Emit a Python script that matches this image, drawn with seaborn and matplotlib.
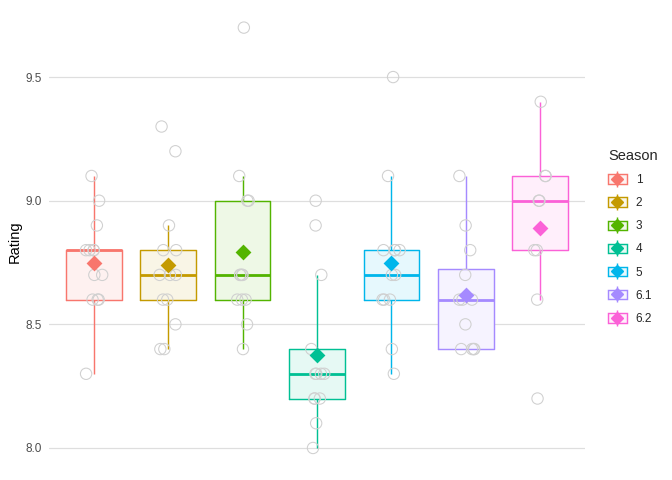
import numpy as np
import pandas as pd
import matplotlib.pyplot as plt
import seaborn as sns
from matplotlib.patches import Patch
from matplotlib.lines import Line2D
from matplotlib.legend_handler import HandlerTuple

# episode ratings per season
seasons = ['1', '2', '3', '4', '5', '6.1', '6.2']
s1 = [8.3, 8.6, 8.6, 8.6, 8.7, 8.7, 8.8, 8.8, 8.8, 8.8, 8.9, 9.0, 9.1]
s2 = [8.4, 8.4, 8.5, 8.6, 8.6, 8.7, 8.7, 8.7, 8.8, 8.8, 8.9, 9.2, 9.3]
s3 = [8.4, 8.5, 8.6, 8.6, 8.6, 8.7, 8.7, 8.7, 8.7, 9.0, 9.0, 9.1, 9.7]
s4 = [8.0, 8.1, 8.2, 8.2, 8.2, 8.3, 8.3, 8.3, 8.3, 8.4, 8.7, 8.9, 9.0]
s5 = [8.3, 8.4, 8.6, 8.6, 8.6, 8.7, 8.7, 8.8, 8.8, 8.8, 8.8, 9.1, 9.5]
s61 = [8.4, 8.4, 8.4, 8.4, 8.5, 8.6, 8.6, 8.6, 8.7, 8.8, 8.9, 9.1]
s62 = [8.2, 8.6, 8.8, 8.8, 9.0, 9.0, 9.1, 9.1, 9.4]

ratings = [s1, s2, s3, s4, s5, s61, s62]
df = pd.DataFrame({
    'Season': [s for s, r in zip(seasons, ratings) for _ in r],
    'Rating': [v for r in ratings for v in r],
})
df['Season'] = pd.Categorical(df['Season'], categories=seasons, ordered=True)

palette = ['#F8766D', '#C49A00', '#53B400', '#00C094', '#00B6EB', '#A58AFF', '#FB61D7']
# alpha 0.1 fill on white
light = [tuple(0.1 * np.array(plt.matplotlib.colors.to_rgb(c)) + 0.9) for c in palette]

sns.set_style('white')
plt.rcParams['font.family'] = ['Liberation Sans', 'DejaVu Sans']

fig = plt.figure(figsize=(7, 5), dpi=96)
ax = fig.add_axes([49 / 672, 1 - 469 / 480, 536 / 672, 454 / 480])

# box fills
sns.boxplot(data=df, x='Season', y='Rating', hue='Season', palette=light,
            saturation=1, width=0.75, showfliers=False, showcaps=False,
            linewidth=0, legend=False, ax=ax)
# box outlines, whiskers, medians
sns.boxplot(data=df, x='Season', y='Rating', hue='Season', palette=palette,
            saturation=1, width=0.75, showfliers=False, showcaps=False,
            fill=False, linewidth=1.07, medianprops={'linewidth': 2.1},
            legend=False, ax=ax)

# jittered episode points
np.random.seed(7)
n0 = len(ax.collections)
sns.stripplot(data=df, x='Season', y='Rating', color='#cccccc', jitter=0.12,
              size=8.5, ax=ax, zorder=4)
for coll in ax.collections[n0:]:
    coll.set_facecolor('none')
    coll.set_edgecolor('#d0d0d0')
    coll.set_linewidth(0.8)

# season means
sns.pointplot(data=df, x='Season', y='Rating', hue='Season', palette=palette,
              estimator='mean', errorbar=None, markers='D', linestyles='none',
              markersize=6, legend=False, ax=ax, zorder=6)

ax.set_xlim(-0.6, 6.6)
ax.set_ylim(7.915, 9.751)
ax.set_yticks([8.0, 8.5, 9.0, 9.5])
ax.set_yticklabels(['8.0', '8.5', '9.0', '9.5'], color='#4D4D4D', fontsize=8.8)
ax.set_xticks([])
ax.set_xlabel('')
ax.set_ylabel('Rating', fontsize=11, color='black', labelpad=3)
ax.tick_params(axis='y', length=0, pad=5)
ax.grid(axis='y', color='#DEDEDE', linewidth=0.9)
ax.set_axisbelow(True)
sns.despine(ax=ax, left=True, bottom=True)

handles = []
for c, lc in zip(palette, light):
    handles.append((
        Patch(facecolor=lc, edgecolor=c, linewidth=1.07),
        Line2D([], [], color=c, marker='|', markersize=12.5, markeredgewidth=1.07,
               linestyle='None'),
        Line2D([], [], color=c, marker='D', markersize=6.5, linestyle='None'),
    ))
leg = fig.legend(handles, seasons, title='Season', loc='upper left',
                 bbox_to_anchor=(602 / 672, 1 - 143 / 480), frameon=False,
                 fontsize=8.8, title_fontsize=11, handlelength=1.62,
                 handleheight=0.85, handletextpad=0.75, labelspacing=0.95,
                 borderpad=0, alignment='left',
                 handler_map={tuple: HandlerTuple(ndivide=1, pad=0)})

fig.savefig('out.png', dpi=96)
